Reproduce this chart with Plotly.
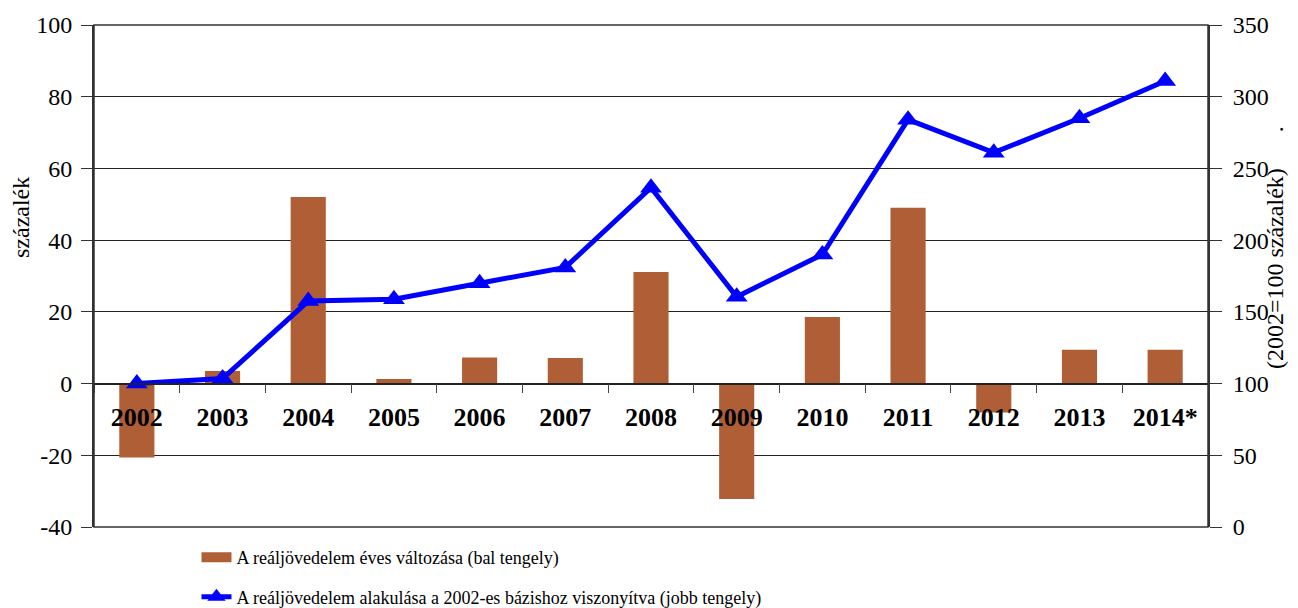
import plotly.graph_objects as go

years = ["2002", "2003", "2004", "2005", "2006", "2007", "2008",
         "2009", "2010", "2011", "2012", "2013", "2014*"]
annual_change = [-20.6, 3.5, 52.0, 1.3, 7.3, 7.1, 31.1, -32.2, 18.6, 49.0, -8.1, 9.4, 9.4]
index_2002 = [100, 103.5, 157.5, 158.8, 170, 181, 236.5, 160.5, 190, 284, 261, 285, 311]

left_ticks = [-40, -20, 0, 20, 40, 60, 80, 100]
left_tick_text = ["-40", "-20", "0", "20", "40", "60", "80", "100"]
right_ticks = [0, 50, 100, 150, 200, 250, 300, 350]

bar_name = "A reáljövedelem éves változása (bal tengely)"
line_name = "A reáljövedelem alakulása a 2002-es bázishoz viszonyítva (jobb tengely)"

FONT = "Liberation Serif, Times New Roman, serif"
BAR_COLOR = "#B05E36"

fig = go.Figure()
fig.add_trace(go.Bar(
    x=years, y=annual_change, name=bar_name,
    marker=dict(color=BAR_COLOR, line=dict(width=0)),
    width=0.41, showlegend=False, yaxis="y",
))
# legend swatch for the bars (wide rectangle like the reference)
fig.add_trace(go.Scatter(
    x=[None], y=[None], name=bar_name, mode="lines",
    line=dict(color=BAR_COLOR, width=15), legendgroup="a", yaxis="y",
))
fig.add_trace(go.Scatter(
    x=years, y=index_2002, name=line_name,
    mode="lines+markers",
    line=dict(color="#0000FF", width=5),
    marker=dict(symbol="triangle-up", size=19, color="#0000FF"),
    legendgroup="b", yaxis="y2",
))

fig.update_layout(
    width=1290, height=600,
    margin=dict(l=86, r=90, t=17, b=81, autoexpand=False),
    plot_bgcolor="white", paper_bgcolor="white",
    font=dict(family=FONT, color="black", size=23),
    showlegend=True,
    legend=dict(
        x=0.092, y=-0.024, xanchor="left", yanchor="top",
        font=dict(family=FONT, size=18, color="black"),
        tracegroupgap=13, bgcolor="rgba(0,0,0,0)",
    ),
    xaxis=dict(
        type="category", range=[-0.5, 12.5],
        anchor="free", position=40 / 140,
        showline=True, linecolor="#222", linewidth=1.5,
        ticks="outside", tickson="boundaries", ticklen=9, tickcolor="#444",
        tickfont=dict(family=FONT, size=26, weight="bold"),
        ticklabelstandoff=10,
        showgrid=False, zeroline=False,
    ),
    yaxis=dict(
        range=[-40, 100], tickvals=left_ticks, ticktext=left_tick_text,
        showgrid=True, gridcolor="#222", gridwidth=1,
        zeroline=False,
        showline=True, linecolor="#333", linewidth=2,
        ticks="outside", ticklen=11, tickcolor="#333",
        ticklabelstandoff=4,
        tickfont=dict(family=FONT, size=24),
    ),
    yaxis2=dict(
        range=[0, 350], tickvals=right_ticks,
        overlaying="y", side="right",
        showgrid=False, zeroline=False,
        showline=True, linecolor="#333", linewidth=2,
        ticks="outside", ticklen=12, tickcolor="#333",
        ticklabelstandoff=6,
        tickfont=dict(family=FONT, size=24),
    ),
    shapes=[dict(type="rect", xref="paper", yref="paper", x0=0, x1=1, y0=0, y1=1,
                 line=dict(color="#333", width=1.5), layer="above")],
    annotations=[
        dict(text="százalék", textangle=-90, xref="paper", yref="paper",
             x=(21 - 94) / 1114, y=(527 - 218) / 502, showarrow=False,
             font=dict(family=FONT, size=24), xanchor="center", yanchor="middle"),
        dict(text="(2002=100 százalék)      .", textangle=-90, xref="paper", yref="paper",
             x=(1275 - 94) / 1114, y=(527 - 248) / 502, showarrow=False,
             font=dict(family=FONT, size=24), xanchor="center", yanchor="middle"),
    ],
)

fig.write_html("out.html")
